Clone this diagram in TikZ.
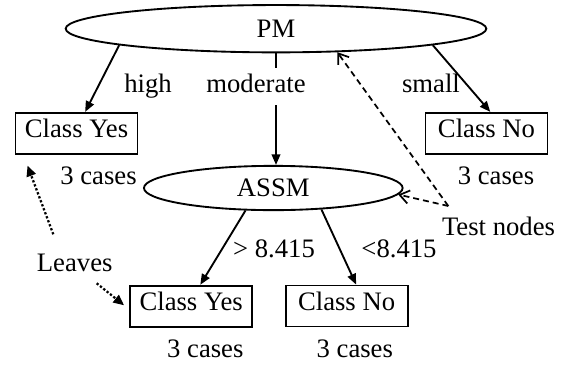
\documentclass[tikz,border=0pt]{standalone}
\usepackage{fontspec}
\setmainfont{Liberation Serif}
\usetikzlibrary{shapes.geometric,arrows.meta}

\begin{document}
\begin{tikzpicture}[x=0.75pt,y=-0.75pt,
		every node/.style={font=\fontsize{20}{24}\selectfont},
		test/.style={draw,ellipse,line width=1.4pt,inner sep=0pt},
		leaf/.style={draw,rectangle,line width=1.4pt,minimum width=91.5pt,minimum height=30.75pt,inner sep=0pt,text height=13.5pt,text depth=7pt},
		lbl/.style={anchor=base,inner sep=0pt},
		branch/.style={line width=1.4pt,-{Triangle[length=8pt,width=6.5pt]}},
		pointer/.style={line width=1.3pt,dash pattern=on 4.5pt off 3pt,-{Straight Barb[length=7pt,width=10pt]}},
		hint/.style={line width=1.7pt,dash pattern=on 1.7pt off 1.5pt,-{Triangle[length=8pt,width=7pt]}}]
		\useasboundingbox (0,0) rectangle (572,365);
		% Testnoder
		\node[test,minimum width=315.5pt,minimum height=35.5pt] (pm) at (276,28.7) {PM};
		\node[test,minimum width=194pt,minimum height=33.2pt] (assm) at (273.3,188) {ASSM};
		% Blader
		\node[leaf] (yes1) at (76.5,133.3) {Class Yes};
		\node[leaf] (no1) at (486.5,133.3) {Class No};
		\node[leaf] (yes2) at (191.2,306.2) {Class Yes};
		\node[leaf] (no2) at (346.6,306) {Class No};
		% Greiner
		\draw[branch] (pm.186.7) -- (yes1.68);
		\draw[branch] (pm.354.7) -- (no1.80);
		\draw[branch] (pm.south) -- (pm.south |- assm.north);
		\draw[branch] (assm.219) -- (yes2.67);
		\draw[branch] (assm.336) -- (no2.66);
		% Etiketter
		\node[lbl] (high) at (148,92.3) {high};
		\node[lbl,fill=white,inner ysep=4.5pt,text depth=5pt] (moderate) at (256,92.3) {moderate};
		\node[lbl] (small) at (431,92.3) {small};
		\node[lbl] (gt) at (274,257.7) {> 8.415};
		\node[lbl] (lt) at (399,257.7) {<8.415};
		\node[lbl] (cases1) at (98.5,184.3) {3 cases};
		\node[lbl] (cases2) at (496,184.3) {3 cases};
		\node[lbl] (cases3) at (205.3,357.7) {3 cases};
		\node[lbl] (cases4) at (354.8,357.7) {3 cases};
		% Forklaringer
		\node[lbl] (tests) at (498.5,235) {Test nodes};
		\node[lbl] (leaves) at (74.7,271) {Leaves};
		\coordinate (tst) at (448.3,206);
		\draw[pointer] (tst) -- (pm.339.8);
		\draw[pointer] (tst) -- (assm.357);
		\coordinate (lv1) at (53.3,234.3);
		\coordinate (lv2) at (96.7,283.3);
		\draw[hint,shorten >=8.7pt] (lv1) -- (yes1.202);
		\draw[hint,shorten >=5pt] (lv2) -- (yes2.183);
	\end{tikzpicture}
\end{document}
